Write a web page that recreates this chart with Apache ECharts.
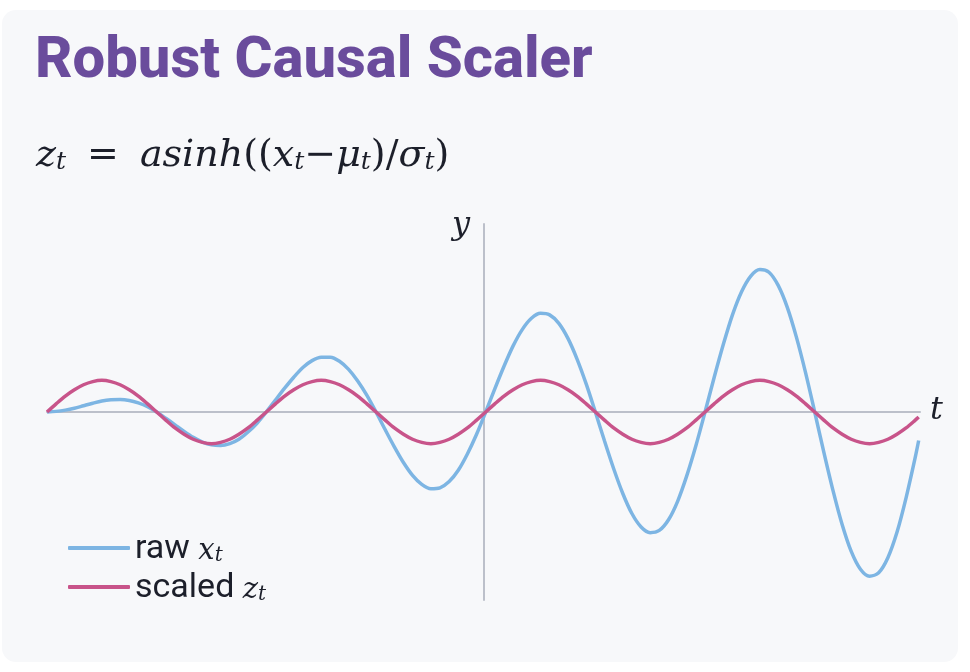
<!DOCTYPE html>
<html>
<head>
<meta charset="utf-8">
<style>
  html, body { margin: 0; padding: 0; background: #ffffff; }
  #chart { width: 970px; height: 672px; }
</style>
<script src="https://cdn.jsdelivr.net/npm/echarts@6/dist/echarts.min.js"></script>
</head>
<body>
<div id="chart"></div>
<script>
// Sample positions along t (y axis sits at t = 0)
const tValues = [
  -3.98, -3.897, -3.813, -3.73, -3.647, -3.563, -3.48, -3.397, -3.313, -3.23, -3.147, -3.063,
  -2.98, -2.897, -2.813, -2.73, -2.647, -2.563, -2.48, -2.397, -2.313, -2.23, -2.147, -2.063,
  -1.98, -1.897, -1.813, -1.73, -1.647, -1.563, -1.48, -1.397, -1.313, -1.23, -1.147, -1.063,
  -0.98, -0.897, -0.813, -0.73, -0.647, -0.563, -0.48, -0.397, -0.313, -0.23, -0.147, -0.063,
  0.02, 0.103, 0.187, 0.27, 0.353, 0.437, 0.52, 0.603, 0.687, 0.77, 0.853, 0.937,
  1.02, 1.103, 1.187, 1.27, 1.353, 1.437, 1.52, 1.603, 1.687, 1.77, 1.853, 1.937,
  2.02, 2.103, 2.187, 2.27, 2.353, 2.437, 2.52, 2.603, 2.687, 2.77, 2.853, 2.937,
  3.02, 3.103, 3.187, 3.27, 3.353, 3.437, 3.52, 3.603, 3.687, 3.77, 3.853, 3.937,
  3.968
];
// raw x_t
const rawValues = [
  0, 0.02, 0.06, 0.12, 0.20, 0.28, 0.35, 0.39, 0.40, 0.37, 0.29, 0.17,
  0, -0.20, -0.41, -0.62, -0.81, -0.96, -1.05, -1.07, -1.01, -0.87, -0.64, -0.35,
  0, 0.38, 0.76, 1.11, 1.42, 1.64, 1.75, 1.75, 1.62, 1.36, 0.99, 0.53,
  0, -0.56, -1.11, -1.61, -2.02, -2.31, -2.45, -2.42, -2.22, -1.86, -1.34, -0.71,
  0, 0.74, 1.46, 2.11, 2.63, 2.99, 3.15, 3.10, 2.83, 2.35, 1.69, 0.89,
  0, -0.92, -1.81, -2.60, -3.24, -3.67, -3.85, -3.78, -3.44, -2.85, -2.04, -1.07,
  0, 1.10, 2.16, 3.10, 3.84, 4.34, 4.55, 4.46, 4.04, 3.34, 2.39, 1.25,
  0, -1.28, -2.51, -3.59, -4.45, -5.02, -5.24, -5.13, -4.65, -3.84, -2.74, -1.44,
  -0.91
];
// scaled z_t
const scaledValues = [
  0, 0.26, 0.51, 0.71, 0.87, 0.97, 1.01, 0.97, 0.87, 0.71, 0.51, 0.26,
  0, -0.26, -0.51, -0.71, -0.87, -0.97, -1.01, -0.97, -0.87, -0.71, -0.51, -0.26,
  0, 0.26, 0.51, 0.71, 0.87, 0.97, 1.01, 0.97, 0.87, 0.71, 0.51, 0.26,
  0, -0.26, -0.51, -0.71, -0.87, -0.97, -1.01, -0.97, -0.87, -0.71, -0.51, -0.26,
  0, 0.26, 0.51, 0.71, 0.87, 0.97, 1.01, 0.97, 0.87, 0.71, 0.51, 0.26,
  0, -0.26, -0.51, -0.71, -0.87, -0.97, -1.01, -0.97, -0.87, -0.71, -0.51, -0.26,
  0, 0.26, 0.51, 0.71, 0.87, 0.97, 1.01, 0.97, 0.87, 0.71, 0.51, 0.26,
  0, -0.26, -0.51, -0.71, -0.87, -0.97, -1.01, -0.97, -0.87, -0.71, -0.51, -0.26,
  -0.16
];
const seriesNames = ['raw', 'scaled'];
const seriesVars = ['x', 'z'];

const titleText = 'Robust Causal Scaler';

const chart = echarts.init(document.getElementById('chart'), null, { renderer: 'canvas' });

const mathFont = '"DejaVu Serif", "Liberation Serif", serif';
const sansFont = 'Roboto, "Noto Sans", sans-serif';
const blue = '#7db5e3';
const pink = '#c8548a';
const axisGray = '#bcc0ca';
const ink = '#1c1f2a';

const option = {
  backgroundColor: 'transparent',
  animation: false,
  graphic: [
    {
      type: 'rect', z: -10, silent: true,
      shape: { x: 2, y: 10, width: 956, height: 652, r: 14 },
      style: { fill: '#f7f8fa' }
    },
    {
      type: 'text', left: 35, top: 33,
      style: {
        text: titleText,
        font: '800 58px ' + sansFont,
        fill: '#6a4c9c'
      }
    },
    {
      type: 'text', left: 36, top: 137,
      style: {
        text: '{i|z}{s|t}{g| }{u|=}{g| }{i|asinh}{u|((}{i|x}{s|t}{u|−}{i|μ}{s|t}{u|)/}{i|σ}{s|t}{u|)}',
        rich: {
          i: { fontFamily: mathFont, fontStyle: 'italic', fontSize: 38, lineHeight: 48, verticalAlign: 'bottom', fill: ink },
          u: { fontFamily: mathFont, fontSize: 38, lineHeight: 48, verticalAlign: 'bottom', fill: ink },
          g: { fontFamily: mathFont, fontSize: 38, lineHeight: 48, width: 21, verticalAlign: 'bottom', fill: ink },
          s: { fontFamily: mathFont, fontStyle: 'italic', fontSize: 25, lineHeight: 25, verticalAlign: 'bottom', fill: ink }
        }
      }
    },
    {
      type: 'text', left: 452, top: 210,
      style: { text: 'y', font: 'italic 32px ' + mathFont, fill: ink }
    },
    {
      type: 'text', left: 930, top: 395,
      style: { text: 't', font: 'italic 32px ' + mathFont, fill: ink }
    }
  ],
  grid: { left: 47, right: 50, top: 224, bottom: 72, containLabel: false },
  xAxis: {
    type: 'value', min: -3.98, max: 3.98,
    axisLine: { onZero: true, lineStyle: { color: axisGray, width: 2 } },
    axisTick: { show: false }, axisLabel: { show: false }, splitLine: { show: false }
  },
  yAxis: {
    type: 'value', min: -6, max: 6,
    axisLine: { show: true, onZero: true, lineStyle: { color: axisGray, width: 2 } },
    axisTick: { show: false }, axisLabel: { show: false }, splitLine: { show: false }
  },
  legend: {
    orient: 'vertical', left: 63, top: 527,
    icon: 'roundRect', itemWidth: 62, itemHeight: 4, itemGap: 5,
    data: seriesNames,
    formatter: function (name) {
      const i = seriesNames.indexOf(name);
      return '{n|' + name + ' }{m|' + seriesVars[i] + '}{s|t}';
    },
    textStyle: {
      rich: {
        n: { fontFamily: sansFont, fontSize: 34, lineHeight: 36, color: ink, verticalAlign: 'bottom' },
        m: { fontFamily: mathFont, fontStyle: 'italic', fontSize: 29, lineHeight: 36, color: ink, verticalAlign: 'bottom' },
        s: { fontFamily: mathFont, fontStyle: 'italic', fontSize: 20, lineHeight: 22, color: ink, verticalAlign: 'bottom' }
      }
    }
  },
  series: [
    {
      name: seriesNames[0], type: 'line', smooth: 0.3, showSymbol: false, symbol: 'none',
      data: tValues.map((t, i) => [t, rawValues[i]]),
      lineStyle: { color: blue, width: 3.5 }, itemStyle: { color: blue }
    },
    {
      name: seriesNames[1], type: 'line', smooth: 0.3, showSymbol: false, symbol: 'none',
      data: tValues.map((t, i) => [t, scaledValues[i]]),
      lineStyle: { color: pink, width: 3.5 }, itemStyle: { color: pink }
    }
  ]
};
chart.setOption(option);
</script>
</body>
</html>
